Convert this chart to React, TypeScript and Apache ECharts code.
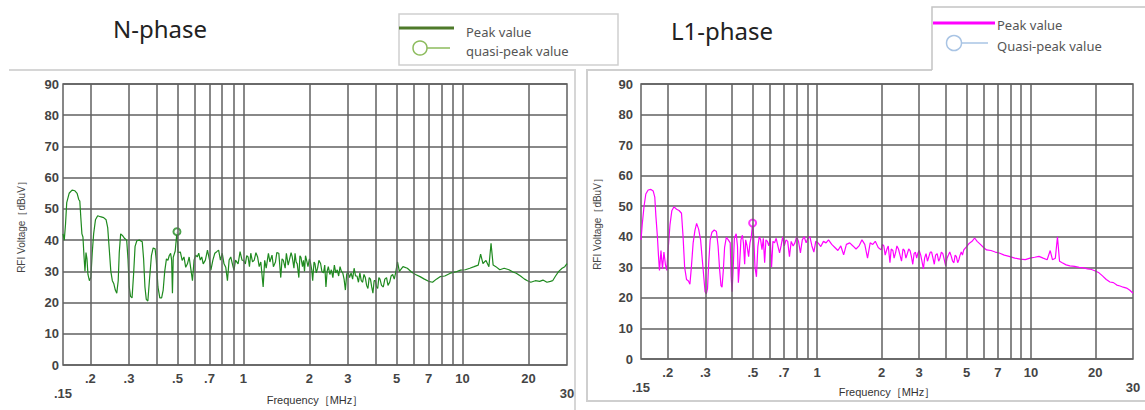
import React, { useEffect, useRef } from "react";
import * as echarts from "echarts";

// ---------- data ----------
const nPhasePeak: [number, number][] = [
  [0.150, 42], [0.152, 40], [0.154, 45], [0.156, 52], [0.160, 55], [0.165, 56], [0.170, 55.8], [0.174, 55],
  [0.177, 53], [0.179, 52.5], [0.181, 47], [0.183, 42], [0.185, 41], [0.187, 35], [0.189, 30], [0.191, 36],
  [0.193, 34], [0.195, 29], [0.198, 27], [0.201, 28], [0.204, 36], [0.207, 42], [0.211, 46.5], [0.216, 47.8],
  [0.222, 47.5], [0.230, 47.2], [0.236, 46.5], [0.240, 44], [0.244, 37], [0.248, 30], [0.252, 27], [0.256, 26],
  [0.260, 24], [0.264, 23], [0.268, 27], [0.271, 36], [0.275, 42], [0.280, 41.5], [0.287, 40.5], [0.293, 40],
  [0.297, 34], [0.301, 25], [0.305, 22], [0.310, 21.5], [0.315, 29], [0.320, 38], [0.326, 39.8], [0.335, 40],
  [0.345, 39.5], [0.350, 34], [0.355, 25], [0.360, 21], [0.366, 20.5], [0.372, 27], [0.380, 35], [0.387, 37.5],
  [0.395, 37.2], [0.400, 33.5], [0.407, 25], [0.415, 21.5], [0.423, 21.5], [0.430, 24], [0.437, 30], [0.445, 34],
  [0.452, 33.5], [0.458, 35], [0.465, 35.8], [0.470, 33.5], [0.474, 23], [0.478, 34.5], [0.488, 36.5], [0.497, 42.7],
  [0.503, 36], [0.515, 36.2], [0.525, 33.5], [0.535, 34.6], [0.545, 31.3], [0.555, 32.4], [0.565, 34.6], [0.575, 30.8],
  [0.585, 27], [0.595, 33.6], [0.605, 35.2], [0.615, 34.6], [0.625, 35.8], [0.635, 33.6], [0.645, 34.6], [0.655, 32.4],
  [0.670, 33.6], [0.685, 36.8], [0.700, 33.6], [0.710, 30.4], [0.725, 33.6], [0.740, 35.8], [0.755, 36.3], [0.770, 36.8],
  [0.785, 33.6], [0.800, 35.8], [0.815, 32.4], [0.830, 31.3], [0.845, 27], [0.860, 33.6], [0.875, 34.6], [0.890, 32.4],
  [0.905, 30.4], [0.920, 33.6], [0.945, 32.4], [0.965, 36.3], [0.985, 33.6], [1.00, 33.5], [1.02, 32.4], [1.035, 35],
  [1.05, 34.6], [1.065, 31.5], [1.08, 35.8], [1.10, 33], [1.12, 33.6], [1.14, 36], [1.16, 34.6], [1.18, 31.5],
  [1.20, 33], [1.23, 25], [1.25, 33.5], [1.27, 31], [1.30, 35.8], [1.32, 33], [1.35, 35.2], [1.37, 31.5],
  [1.40, 33], [1.42, 36], [1.45, 35.8], [1.48, 28], [1.50, 34], [1.52, 33.6], [1.55, 31], [1.57, 35.8],
  [1.60, 32], [1.62, 33.6], [1.65, 36], [1.67, 34.6], [1.70, 31], [1.72, 35.8], [1.74, 33], [1.76, 32.4],
  [1.79, 28], [1.81, 35], [1.83, 34.5], [1.86, 31.5], [1.88, 33.5], [1.90, 30], [1.92, 35], [1.95, 33],
  [1.97, 31.5], [2.00, 34], [2.02, 33], [2.05, 30.5], [2.07, 27], [2.10, 33], [2.12, 32.5], [2.15, 29.5],
  [2.18, 31], [2.21, 33.5], [2.25, 32.5], [2.28, 30], [2.32, 29.5], [2.35, 32], [2.38, 25], [2.41, 30],
  [2.44, 31.5], [2.48, 29], [2.52, 30.5], [2.56, 28], [2.60, 32], [2.64, 29.5], [2.68, 30.5], [2.72, 28.5],
  [2.76, 31.5], [2.80, 30], [2.84, 29.5], [2.88, 27.5], [2.92, 24], [2.96, 29], [3.00, 30], [3.05, 28],
  [3.10, 29.5], [3.15, 27.5], [3.20, 31], [3.25, 28.5], [3.30, 28.5], [3.35, 26.5], [3.40, 29.5], [3.45, 27],
  [3.50, 26.5], [3.55, 29], [3.60, 28], [3.65, 25.5], [3.70, 24.5], [3.75, 28], [3.80, 27.5], [3.85, 25],
  [3.90, 23], [3.95, 27], [4.00, 27], [4.05, 25], [4.10, 24.5], [4.15, 28], [4.20, 27.5], [4.27, 25.5],
  [4.35, 25], [4.42, 27.5], [4.50, 28], [4.57, 25.5], [4.65, 26.5], [4.72, 28.5], [4.80, 29], [4.88, 27.5],
  [4.95, 29.5], [5.05, 33], [5.15, 30], [5.35, 31.5], [5.60, 31], [5.85, 29.8], [6.10, 29], [6.40, 28.3],
  [6.70, 27.5], [7.00, 26.8], [7.30, 26.5], [7.60, 27.5], [7.90, 28.3], [8.30, 28.5], [8.80, 29.4], [9.30, 29.8],
  [9.80, 30.4], [10.3, 30.5], [10.8, 31], [11.3, 31.5], [11.8, 32], [12.1, 35.5], [12.4, 32.5], [12.8, 33.5],
  [13.2, 31.5], [13.5, 39], [13.8, 32], [14.2, 31.5], [14.8, 30.5], [15.5, 31], [16.3, 30.5], [17.0, 29.8],
  [17.6, 29.4], [18.4, 28.5], [19.2, 27.5], [19.8, 27], [20.5, 26.5], [21.5, 27], [22.5, 26.8], [23.3, 27.2],
  [24.3, 26.5], [25.2, 26.8], [25.8, 27], [26.6, 28.5], [27.5, 30], [28.5, 31], [29.3, 31.5], [30.0, 32.5],
];

const l1PhasePeak: [number, number][] = [
  [0.150, 39], [0.152, 44], [0.155, 50], [0.158, 54], [0.162, 55.3], [0.167, 55.5], [0.171, 55], [0.174, 53],
  [0.176, 47], [0.179, 40], [0.181, 34], [0.183, 29], [0.186, 35.5], [0.189, 29.5], [0.192, 35], [0.195, 31],
  [0.198, 29], [0.201, 36], [0.205, 44], [0.209, 48.5], [0.214, 49.8], [0.220, 49], [0.226, 48.6], [0.232, 47.7],
  [0.236, 40], [0.240, 30], [0.245, 26], [0.250, 25.5], [0.254, 24.5], [0.258, 30], [0.263, 38], [0.268, 42],
  [0.273, 44.4], [0.279, 42.5], [0.285, 39], [0.289, 34], [0.294, 28], [0.299, 22], [0.303, 21.3], [0.307, 23],
  [0.311, 31.5], [0.316, 39], [0.322, 41.5], [0.330, 42.2], [0.338, 41.7], [0.344, 37], [0.350, 29], [0.355, 24],
  [0.359, 23.5], [0.364, 29], [0.369, 36.5], [0.376, 39.8], [0.384, 39], [0.392, 38], [0.396, 27], [0.400, 22],
  [0.405, 30], [0.410, 39.5], [0.418, 41], [0.424, 37], [0.428, 25], [0.433, 30], [0.440, 39], [0.447, 40.5],
  [0.452, 38], [0.458, 31], [0.463, 39], [0.470, 37], [0.478, 33.5], [0.485, 38], [0.492, 40], [0.499, 44.5],
  [0.505, 40], [0.512, 30], [0.520, 26.9], [0.528, 36.8], [0.536, 40], [0.544, 39], [0.552, 35.8], [0.560, 39.5],
  [0.568, 31.5], [0.576, 39], [0.585, 38.5], [0.594, 37], [0.603, 39.5], [0.612, 30], [0.621, 38.5], [0.632, 38],
  [0.643, 39.5], [0.655, 37], [0.667, 34.7], [0.678, 37], [0.690, 40], [0.702, 37], [0.715, 39], [0.728, 38.5],
  [0.742, 33.5], [0.756, 38.5], [0.772, 37], [0.787, 38], [0.802, 40], [0.818, 38.5], [0.835, 34.7], [0.852, 39],
  [0.870, 40], [0.888, 38], [0.905, 39.5], [0.925, 40], [0.945, 37], [0.965, 35], [0.985, 38.5], [1.01, 38],
  [1.04, 36.8], [1.07, 38.5], [1.10, 38], [1.13, 39], [1.17, 37.5], [1.21, 36.5], [1.25, 35.5], [1.29, 37],
  [1.33, 34.1], [1.37, 37.5], [1.42, 38], [1.47, 37], [1.52, 36], [1.57, 37], [1.62, 39], [1.67, 37.5],
  [1.72, 33], [1.77, 38], [1.82, 37.5], [1.87, 38.5], [1.93, 36.5], [1.99, 35.7], [2.02, 37.5], [2.05, 37],
  [2.08, 34], [2.12, 36], [2.15, 37], [2.19, 31.5], [2.22, 36], [2.26, 35.5], [2.29, 33], [2.33, 35],
  [2.36, 37], [2.40, 36], [2.44, 34], [2.48, 32], [2.52, 36], [2.56, 35.5], [2.60, 33], [2.64, 34.5],
  [2.68, 36], [2.72, 35.5], [2.76, 33.5], [2.80, 31], [2.84, 34.5], [2.88, 35], [2.92, 33], [2.96, 34.7],
  [3.00, 35.5], [3.05, 34], [3.09, 32], [3.14, 29.5], [3.18, 33], [3.23, 34.5], [3.28, 32], [3.33, 33.5],
  [3.38, 35], [3.43, 35], [3.48, 33], [3.53, 31], [3.58, 34], [3.64, 34.5], [3.70, 32], [3.75, 33],
  [3.81, 35], [3.87, 34.5], [3.93, 32.5], [3.99, 30.5], [4.05, 33], [4.11, 34], [4.17, 35], [4.24, 33.6],
  [4.30, 32], [4.36, 31.5], [4.42, 34], [4.48, 33.5], [4.54, 31.5], [4.60, 32.5], [4.66, 34], [4.72, 35],
  [4.78, 34], [4.85, 35.7], [5.00, 36.8], [5.15, 37.9], [5.30, 38.5], [5.45, 39.6], [5.60, 38.5], [5.80, 37.5],
  [6.00, 36.5], [6.20, 35.7], [6.50, 35.5], [6.80, 35], [7.10, 34.7], [7.50, 34], [7.90, 33.6], [8.40, 33],
  [8.90, 32.7], [9.40, 32.5], [9.90, 33], [10.4, 33.3], [10.9, 33.6], [11.4, 33], [11.9, 32.5], [12.3, 35.5],
  [12.6, 32.5], [13.0, 33], [13.3, 40], [13.6, 32], [14.0, 31.5], [14.6, 30.8], [15.2, 30.5], [16.0, 30.3],
  [16.8, 30], [17.6, 29.8], [18.4, 29.5], [19.2, 29.3], [20.0, 28.8], [20.8, 28.2], [21.6, 27.2], [22.5, 26],
  [23.4, 25.2], [24.3, 25], [25.2, 24.2], [26.1, 23.9], [27.0, 23.5], [28.0, 23.2], [29.0, 22.5], [30.0, 21.5],
];

const nPhaseQuasiPeak: [number, number][] = [[0.497, 42.7]];
const l1PhaseQuasiPeak: [number, number][] = [[0.499, 44.5]];

const gridFrequencies = [0.2, 0.3, 0.4, 0.5, 0.6, 0.7, 0.8, 0.9, 1, 2, 3, 4, 5, 6, 7, 8, 9, 10, 20];
const freqTickLabels: [number, string][] = [
  [0.2, ".2"], [0.3, ".3"], [0.5, ".5"], [0.7, ".7"], [1, "1"], [2, "2"], [3, "3"],
  [5, "5"], [7, "7"], [10, "10"], [20, "20"],
];
const edgeTickLabels: [number, string][] = [[0.15, ".15"], [30, "30"]];

const titles = ["N-phase", "L1-phase"];
const yAxisName = "RFI Voltage［dBuV］";
const xAxisName = "Frequency［MHz］";

// ---------- styles ----------
const GRID_COLOR = "#606060";
const LABEL_COLOR = "#444";
const N_COLOR = "#1f8a1f";
const L1_COLOR = "#ff00ff";
const AXIS_FONT = "Liberation Sans, Arial, sans-serif";

function buildMarkLine() {
  const labelMap = new Map(freqTickLabels);
  const data: any[] = gridFrequencies.map((f) => {
    const txt = labelMap.get(f);
    return {
      xAxis: f,
      label: txt
        ? {
            show: true,
            position: "start",
            distance: 7,
            formatter: txt,
            fontSize: 13,
            fontWeight: "bold",
            color: LABEL_COLOR,
            fontFamily: AXIS_FONT,
          }
        : { show: false },
    };
  });
  return {
    silent: true,
    symbol: ["none", "none"],
    animation: false,
    lineStyle: { color: GRID_COLOR, width: 1.5, type: "solid" },
    emphasis: { disabled: true },
    data,
  };
}

function edgeLabel(v: number): string {
  for (const [f, txt] of edgeTickLabels) {
    if (Math.abs(v - f) < 1e-6 * Math.max(1, f)) return txt;
  }
  return "";
}

export default function App() {
  const ref = useRef<HTMLDivElement>(null);

  useEffect(() => {
    if (!ref.current) return;
    const chart = echarts.init(ref.current, undefined, { renderer: "svg" });

    const grids = [
      { left: 63, top: 84, width: 504, height: 281 },
      { left: 641, top: 84, width: 492, height: 275 },
    ];

    const xAxes = grids.map((_, i) => ({
      gridIndex: i,
      type: "log",
      logBase: 10,
      min: 0.15,
      max: 30,
      axisLine: { show: false },
      axisTick: { show: false },
      axisLabel: {
        show: true,
        showMinLabel: true,
        showMaxLabel: true,
        margin: 22,
        formatter: (v: number) => edgeLabel(v),
        fontSize: 13,
        fontWeight: "bold",
        color: LABEL_COLOR,
        fontFamily: AXIS_FONT,
      },
      splitLine: { show: false },
      name: xAxisName,
      nameLocation: "middle",
      nameMoveOverlap: false,
      nameGap: i === 0 ? 29 : 27,
      nameTextStyle: { fontSize: 11, color: "#333", fontFamily: AXIS_FONT },
    }));

    const yAxes = grids.map((_, i) => ({
      gridIndex: i,
      type: "value",
      min: 0,
      max: 90,
      interval: 10,
      axisLine: { show: false },
      axisTick: { show: false },
      axisLabel: {
        fontSize: 13,
        fontWeight: "bold",
        color: LABEL_COLOR,
        margin: i === 0 ? 4 : 8,
        fontFamily: AXIS_FONT,
      },
      splitLine: { show: true, lineStyle: { color: GRID_COLOR, width: 1.5 } },
      name: yAxisName,
      nameLocation: "middle",
      nameMoveOverlap: false,
      nameGap: i === 0 ? 37 : 39,
      nameTextStyle: { fontSize: 10, color: "#444", fontFamily: AXIS_FONT },
    }));

    const series: any[] = [];
    [0, 1].forEach((i) => {
      series.push({
        type: "line",
        xAxisIndex: i,
        yAxisIndex: i,
        data: [],
        z: 1,
        silent: true,
        markLine: buildMarkLine(),
      });
    });
    series.push({
      name: "N Peak value",
      type: "line",
      xAxisIndex: 0,
      yAxisIndex: 0,
      data: nPhasePeak,
      showSymbol: false,
      z: 3,
      lineStyle: { color: N_COLOR, width: 1.2 },
      itemStyle: { color: N_COLOR },
    });
    series.push({
      name: "N Quasi-peak value",
      type: "scatter",
      xAxisIndex: 0,
      yAxisIndex: 0,
      data: nPhaseQuasiPeak,
      symbol: "emptyCircle",
      symbolSize: 7,
      z: 4,
      itemStyle: { color: N_COLOR, borderWidth: 1.5 },
    });
    series.push({
      name: "L1 Peak value",
      type: "line",
      xAxisIndex: 1,
      yAxisIndex: 1,
      data: l1PhasePeak,
      showSymbol: false,
      z: 3,
      lineStyle: { color: L1_COLOR, width: 1.2 },
      itemStyle: { color: L1_COLOR },
    });
    series.push({
      name: "L1 Quasi-peak value",
      type: "scatter",
      xAxisIndex: 1,
      yAxisIndex: 1,
      data: l1PhaseQuasiPeak,
      symbol: "emptyCircle",
      symbolSize: 7,
      z: 4,
      itemStyle: { color: L1_COLOR, borderWidth: 1.5 },
    });

    const legendFont = "Noto Sans, Open Sans, sans-serif";
    const graphic: any[] = [
      {
        type: "polyline",
        shape: { points: [[9, 70], [575, 70], [575, 412]] },
        style: { stroke: "#d6d6d6", lineWidth: 2, fill: null },
        silent: true,
      },
      {
        type: "polyline",
        shape: { points: [[932, 70], [587, 70], [587, 401], [1147, 401]] },
        style: { stroke: "#cfcfcf", lineWidth: 2, fill: null },
        silent: true,
      },
      {
        type: "polyline",
        shape: { points: [[932, 70], [932, 7], [1147, 7]] },
        style: { stroke: "#c4c4c4", lineWidth: 1.5, fill: null },
        silent: true,
      },
      {
        type: "rect",
        shape: { x: 399, y: 14, width: 219, height: 51 },
        style: { stroke: "#cfcfcf", lineWidth: 1.5, fill: "#fff" },
        silent: true,
      },
      {
        type: "text",
        x: 160,
        y: 28,
        style: { text: titles[0], fontSize: 24, fill: "#222", fontFamily: legendFont, align: "center", verticalAlign: "middle" },
      },
      {
        type: "text",
        x: 722,
        y: 30,
        style: { text: titles[1], fontSize: 24, fill: "#222", fontFamily: legendFont, align: "center", verticalAlign: "middle" },
      },
      { type: "line", shape: { x1: 399, y1: 28, x2: 454, y2: 28 }, style: { stroke: "#4e7a2a", lineWidth: 3 } },
      { type: "line", shape: { x1: 427, y1: 48, x2: 450, y2: 48 }, style: { stroke: "#8cbb5c", lineWidth: 1.5 } },
      { type: "circle", shape: { cx: 420, cy: 48, r: 7 }, style: { stroke: "#8cbb5c", lineWidth: 1.5, fill: "#fff" } },
      {
        type: "text",
        x: 466,
        y: 32,
        style: { text: "Peak value", fontSize: 13, fill: "#555", fontFamily: legendFont, verticalAlign: "middle" },
      },
      {
        type: "text",
        x: 466,
        y: 51,
        style: { text: "quasi-peak value", fontSize: 13, fill: "#555", fontFamily: legendFont, verticalAlign: "middle" },
      },
      { type: "line", shape: { x1: 933, y1: 23, x2: 995, y2: 23 }, style: { stroke: L1_COLOR, lineWidth: 3 } },
      { type: "line", shape: { x1: 962, y1: 43, x2: 988, y2: 43 }, style: { stroke: "#a9c4e4", lineWidth: 1.5 } },
      { type: "circle", shape: { cx: 954, cy: 43, r: 7.5 }, style: { stroke: "#a9c4e4", lineWidth: 1.5, fill: "#fff" } },
      {
        type: "text",
        x: 997,
        y: 25,
        style: { text: "Peak value", fontSize: 13, fill: "#555", fontFamily: legendFont, verticalAlign: "middle" },
      },
      {
        type: "text",
        x: 997,
        y: 46,
        style: { text: "Quasi-peak value", fontSize: 13, fill: "#555", fontFamily: legendFont, verticalAlign: "middle" },
      },
    ];

    chart.setOption({
      animation: false,
      backgroundColor: "#fff",
      grid: grids.map((g) => ({
        ...g,
        show: true,
        outerBoundsMode: "none",
        containLabel: false,
        borderColor: GRID_COLOR,
        borderWidth: 1.5,
        backgroundColor: "transparent",
      })),
      xAxis: xAxes,
      yAxis: yAxes,
      series,
      graphic,
    });

    return () => chart.dispose();
  }, []);

  return (
    <div
      ref={ref}
      style={{ position: "absolute", left: 0, top: 0, width: 1145, height: 410 }}
    />
  );
}
